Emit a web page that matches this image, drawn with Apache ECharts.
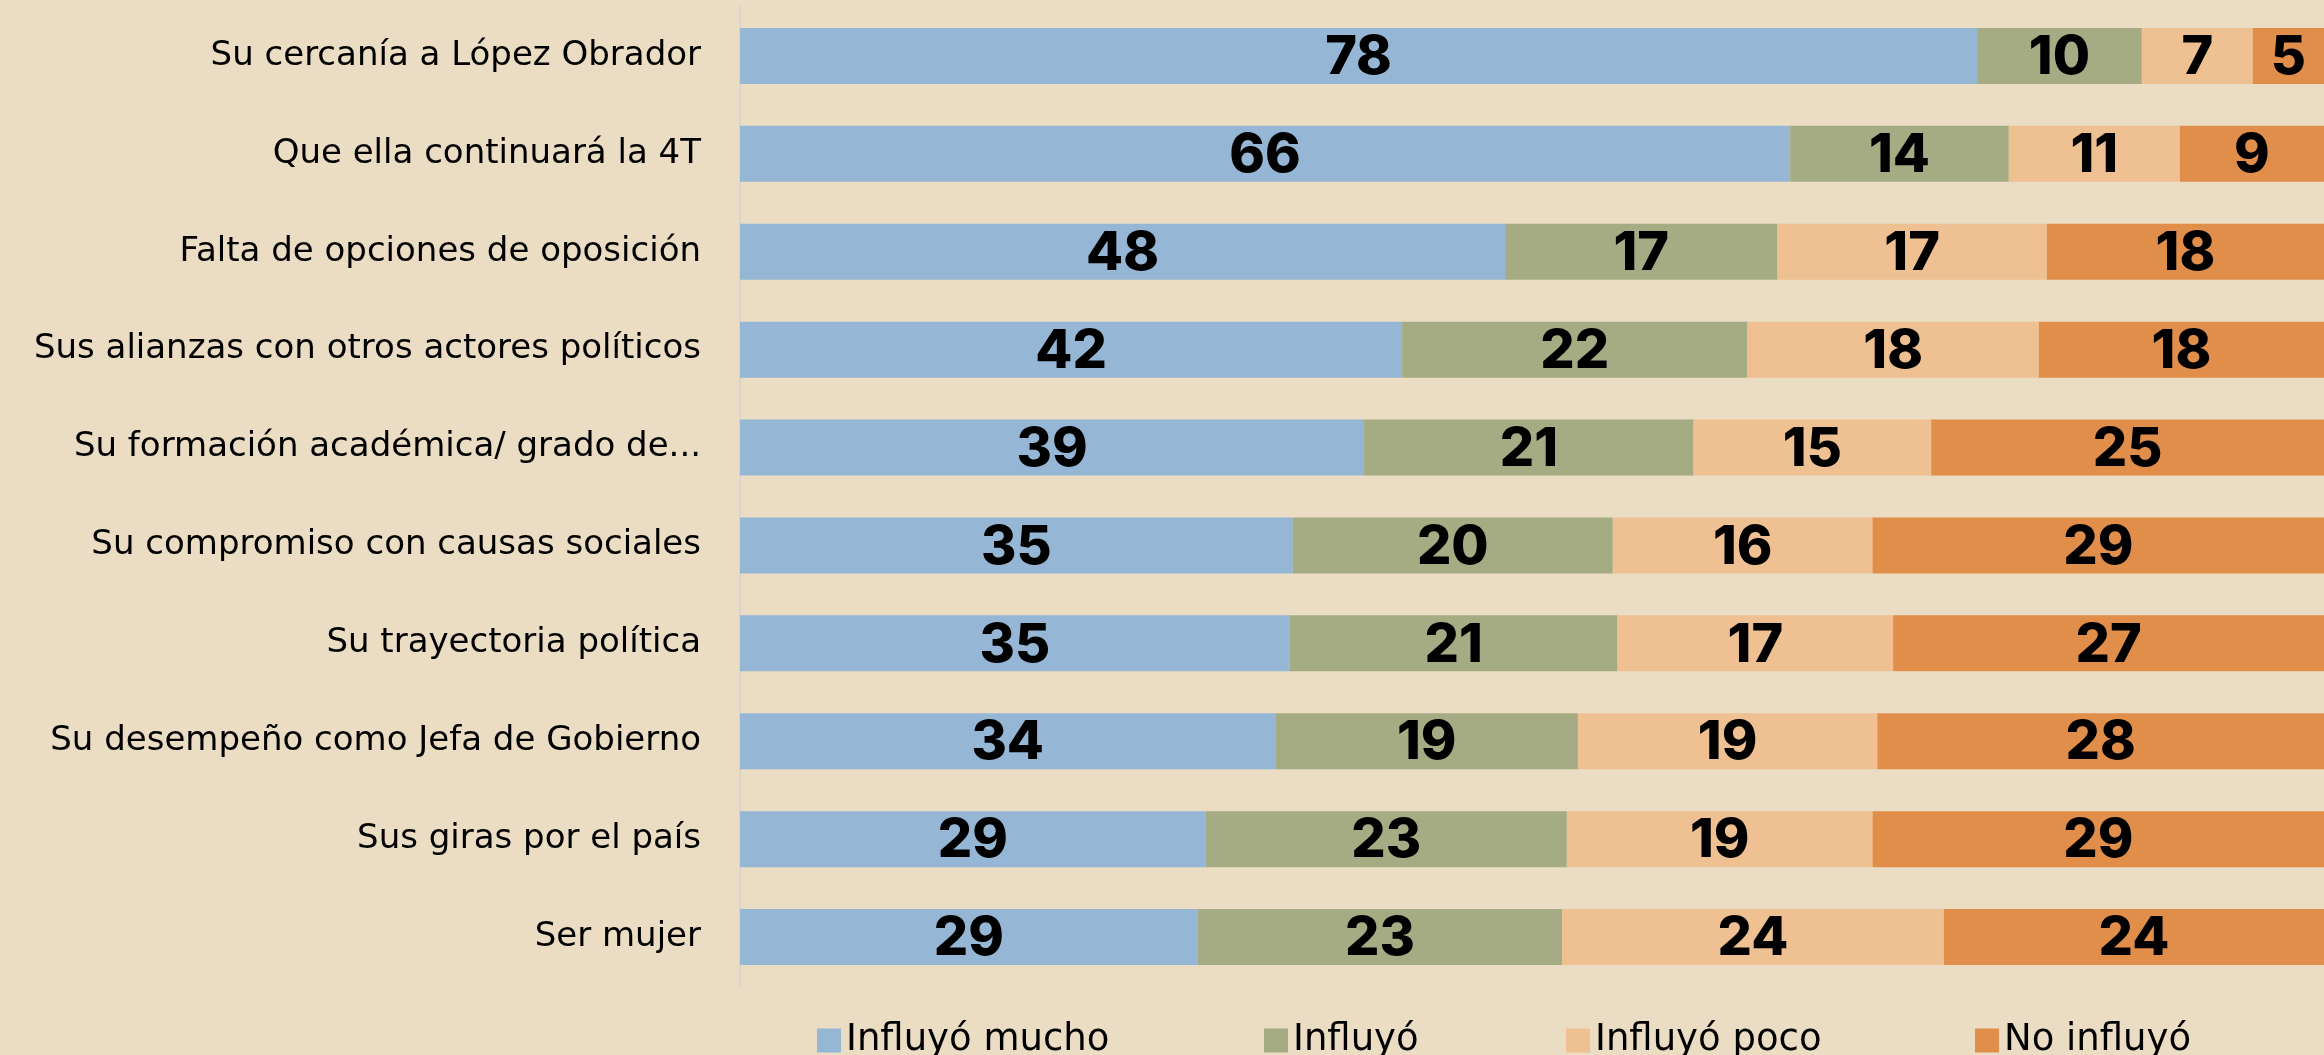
<!DOCTYPE html>
<html>
<head>
    <meta charset="utf-8">
    <title>Influencia</title>
    <script src="https://cdn.jsdelivr.net/npm/echarts@6/dist/echarts.min.js"></script>
    <style>
        html, body { margin: 0; padding: 0; background: #EADDC3; }
        #chart { width: 2324px; height: 1055px; }
    </style>
</head>
<body>
<div id="chart"></div>
<script>
// categorias, de arriba hacia abajo
var categorias = [
    'Su cercanía a López Obrador',
    'Que ella continuará la 4T',
    'Falta de opciones de oposición',
    'Sus alianzas con otros actores políticos',
    'Su formación académica/ grado de...',
    'Su compromiso con causas sociales',
    'Su trayectoria política',
    'Su desempeño como Jefa de Gobierno',
    'Sus giras por el país',
    'Ser mujer'
];
var influyoMucho = [78.1, 66.3, 48.3, 41.8, 39.4, 34.9, 34.7, 33.8, 29.4, 28.9];
var influyo      = [10.4, 13.8, 17.2, 21.8, 20.8, 20.2, 20.7, 19.1, 22.8, 23.0];
var influyoPoco  = [7.0, 10.8, 17.0, 18.4, 15.0, 16.4, 17.4, 18.9, 19.3, 24.1];
var noInfluyo    = [4.5, 9.1, 17.5, 18.0, 24.8, 28.5, 27.2, 28.2, 28.5, 24.0];

var nombres = ['Influyó mucho', 'Influyó', 'Influyó poco', 'No influyó'];
var colores = ['#95B6D4', '#A5AB82', '#EEC092', '#E18E4B'];
var datos = [influyoMucho, influyo, influyoPoco, noInfluyo];
var legendLeft = [812, 1259, 1561, 1970];

var fuente = '"DejaVu Sans", "Noto Sans", sans-serif';
var fuenteNum = 'Inter, "Noto Sans", sans-serif';

var chart = echarts.init(document.getElementById('chart'));

var series = datos.map(function (d, i) {
    return {
        name: nombres[i],
        type: 'bar',
        stack: 'total',
        barWidth: 56,
        data: d,
        itemStyle: { color: colores[i] },
        label: {
            show: true,
            position: 'inside',
            offset: [0, 2],
            color: '#000',
            fontFamily: fuenteNum,
            fontWeight: 800,
            fontSize: 54,
            formatter: function (p) { return Math.round(p.value); }
        }
    };
});

chart.setOption({
    backgroundColor: '#EADDC3',
    animation: false,
    color: colores,
    grid: { left: 740, right: 0, top: 7, bottom: 69 },
    legend: legendLeft.map(function (x, i) {
        return {
            data: [nombres[i]],
            left: x,
            top: 1017,
            icon: 'rect',
            itemWidth: 24,
            itemHeight: 24,
            itemGap: 12,
            textStyle: { fontFamily: fuente, fontSize: 37, color: '#000' }
        };
    }),
    xAxis: {
        type: 'value',
        min: 0,
        max: 100,
        show: false
    },
    yAxis: {
        type: 'category',
        inverse: true,
        data: categorias,
        axisTick: { show: false },
        axisLine: { show: true, lineStyle: { color: '#D9D5CD', width: 2 } },
        axisLabel: {
            margin: 39,
            color: '#000',
            fontFamily: fuente,
            fontSize: 34
        }
    },
    series: series
});
</script>
</body>
</html>
